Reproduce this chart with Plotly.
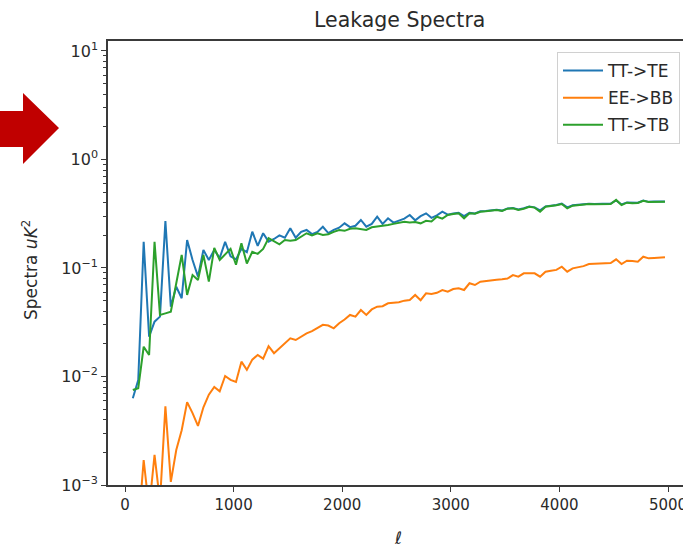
import plotly.graph_objects as go

ell = [72, 122, 172, 222, 272, 322, 372, 422, 472, 522,
       572, 622, 672, 722, 772, 822, 872, 922, 972, 1022,
       1072, 1122, 1172, 1222, 1272, 1322, 1372, 1422, 1472, 1522,
       1572, 1622, 1672, 1722, 1772, 1822, 1872, 1922, 1972, 2022,
       2072, 2122, 2172, 2222, 2272, 2322, 2372, 2422, 2472, 2522,
       2572, 2622, 2672, 2722, 2772, 2822, 2872, 2922, 2972, 3022,
       3072, 3122, 3172, 3222, 3272, 3322, 3372, 3422, 3472, 3522,
       3572, 3622, 3672, 3722, 3772, 3822, 3872, 3922, 3972, 4022,
       4072, 4122, 4172, 4222, 4272, 4322, 4372, 4422, 4472, 4522,
       4572, 4622, 4672, 4722, 4772, 4822, 4872, 4922, 4972]

tt_te = [0.0063, 0.0093, 0.174, 0.0233, 0.032, 0.0356, 0.271, 0.044, 0.0672, 0.0526,
         0.181, 0.1186, 0.0832, 0.1466, 0.1186, 0.1466, 0.1236, 0.174, 0.128, 0.120,
         0.150, 0.140, 0.216, 0.160, 0.209, 0.175, 0.185, 0.200, 0.190, 0.232,
         0.190, 0.215, 0.224, 0.205, 0.215, 0.240, 0.210, 0.225, 0.235, 0.258,
         0.238, 0.245, 0.277, 0.240, 0.255, 0.297, 0.255, 0.287, 0.262, 0.275,
         0.285, 0.308, 0.275, 0.300, 0.319, 0.290, 0.305, 0.330, 0.310, 0.318,
         0.322, 0.300, 0.322, 0.318, 0.333, 0.336, 0.340, 0.345, 0.338, 0.354,
         0.357, 0.346, 0.356, 0.369, 0.362, 0.340, 0.370, 0.375, 0.380, 0.392,
         0.362, 0.378, 0.383, 0.387, 0.391, 0.388, 0.391, 0.395, 0.392, 0.420,
         0.385, 0.402, 0.398, 0.400, 0.418, 0.407, 0.410, 0.412, 0.410]

ee_bb = [0.0003, 0.0004, 0.0017, 0.0006, 0.0019, 0.0007, 0.0053, 0.00107, 0.0021, 0.0032,
         0.0058, 0.0046, 0.0035, 0.0052, 0.0068, 0.0080, 0.0073, 0.0101, 0.0093, 0.0089,
         0.0137, 0.0115, 0.0143, 0.0158, 0.0146, 0.0190, 0.0164, 0.0182, 0.0200, 0.0225,
         0.0217, 0.0232, 0.0250, 0.0262, 0.0278, 0.0299, 0.0295, 0.0278, 0.0310, 0.0335,
         0.0369, 0.0356, 0.0410, 0.0369, 0.0415, 0.0440, 0.0445, 0.0473, 0.0478, 0.0483,
         0.0500, 0.0507, 0.0564, 0.0505, 0.0585, 0.0575, 0.0590, 0.0627, 0.0605, 0.0640,
         0.0650, 0.0627, 0.0723, 0.0697, 0.0748, 0.0760, 0.0775, 0.0780, 0.0787, 0.0800,
         0.0861, 0.0832, 0.0893, 0.0890, 0.0893, 0.0832, 0.0924, 0.0944, 0.0960, 0.1028,
         0.0924, 0.0993, 0.1014, 0.1040, 0.1088, 0.1088, 0.1090, 0.1104, 0.1110, 0.1202,
         0.1088, 0.1167, 0.1160, 0.1143, 0.1270, 0.1227, 0.1235, 0.1250, 0.1256]

tt_tb = [0.0075, 0.0078, 0.0188, 0.0158, 0.1745, 0.0369, 0.0382, 0.0396, 0.0723, 0.132,
         0.0564, 0.0861, 0.0775, 0.132, 0.0748, 0.153, 0.1186, 0.132, 0.150, 0.107,
         0.169, 0.110, 0.141, 0.135, 0.150, 0.188, 0.1745, 0.165, 0.181, 0.178,
         0.181, 0.195, 0.209, 0.200, 0.209, 0.2015, 0.205, 0.215, 0.224, 0.220,
         0.230, 0.232, 0.228, 0.224, 0.237, 0.240, 0.245, 0.249, 0.255, 0.262,
         0.267, 0.263, 0.265, 0.258, 0.272, 0.268, 0.297, 0.285, 0.308, 0.315,
         0.319, 0.287, 0.319, 0.316, 0.330, 0.333, 0.338, 0.342, 0.335, 0.352,
         0.355, 0.342, 0.352, 0.367, 0.360, 0.330, 0.367, 0.372, 0.378, 0.389,
         0.355, 0.375, 0.380, 0.385, 0.389, 0.386, 0.389, 0.392, 0.389, 0.424,
         0.380, 0.400, 0.395, 0.398, 0.417, 0.405, 0.408, 0.410, 0.408]

series_names = ["TT->TE", "EE->BB", "TT->TB"]
series_colors = ["#1f77b4", "#ff7f0e", "#2ca02c"]
x_ticks = [0, 1000, 2000, 3000, 4000, 5000]
y_ticks = [0.001, 0.01, 0.1, 1, 10]
y_ticktext = ["10<sup>\u22123</sup>", "10<sup>\u22122</sup>", "10<sup>\u22121</sup>",
              "10<sup>0</sup>", "10<sup>1</sup>"]

W, H = 683, 549
ML, MR, MT, MB = 108, 0, 41, 64
PW, PH = W - ML - MR, H - MT - MB
FONT = "DejaVu Sans"
TXT = "#2a2a2a"
AX = "#3a3a3a"

fig = go.Figure()
for name, ys, col in zip(series_names, [tt_te, ee_bb, tt_tb], series_colors):
    fig.add_trace(go.Scatter(x=ell, y=ys, mode="lines", name=name, legendgroup=name,
                             line=dict(color=col, width=2)))

minor_vals = [m * 10 ** e for e in range(-3, 2) for m in range(2, 10)]


def px2paper(px, py):
    return (px - ML) / PW, (H - MB - py) / PH


arrow_px = [(-5, 111), (23, 111), (23, 93), (59, 128), (23, 164), (23, 147), (-5, 147)]
pts = [px2paper(a, b) for a, b in arrow_px]
path = "M " + " L ".join(f"{a:.4f},{b:.4f}" for a, b in pts) + " Z"

fig.update_layout(
    width=W, height=H,
    margin=dict(l=ML, r=MR, t=MT, b=MB, pad=0, autoexpand=False),
    paper_bgcolor="white", plot_bgcolor="white",
    font=dict(family=FONT, size=15, color=TXT),
    showlegend=True,
    legend=dict(x=(680 - ML) / PW, y=(H - MB - 52) / PH, xanchor="right", yanchor="top",
                bgcolor="rgba(255,255,255,0.85)", bordercolor="#d0d0d0", borderwidth=1,
                font=dict(family=FONT, size=17, color=TXT),
                traceorder="grouped", tracegroupgap=2, itemwidth=40),
    xaxis=dict(range=[-156.5, 5138], tickvals=x_ticks, ticks="outside", ticklen=5,
               tickwidth=1.2, tickcolor=AX, showline=True, linecolor=AX, linewidth=1.6,
               mirror=True, showgrid=False, zeroline=False, ticklabeloverflow="allow",
               automargin=False,
               tickfont=dict(family=FONT, size=15, color=TXT)),
    yaxis=dict(type="log", range=[-3, 1.092], tickvals=y_ticks, ticktext=y_ticktext,
               ticks="outside", ticklen=5, tickwidth=1.2, tickcolor=AX,
               showline=True, linecolor=AX, linewidth=1.6, mirror=False,
               showgrid=False, zeroline=False, ticklabeloverflow="allow",
               automargin=False,
               tickfont=dict(family=FONT, size=16, color=TXT),
               minor=dict(tickvals=minor_vals, ticks="outside", ticklen=3,
                          tickwidth=1, tickcolor=AX, showgrid=False)),
    shapes=[dict(type="path", path=path, xref="paper", yref="paper",
                 fillcolor="#c00000", line=dict(width=0), layer="above")],
    annotations=[
        dict(text="Leakage Spectra", xref="paper", yref="paper",
             x=(399 - ML) / PW, y=(H - MB - 20) / PH, xanchor="center", yanchor="middle",
             showarrow=False, font=dict(family=FONT, size=20.5, color=TXT)),
        dict(text="Spectra <i>uK</i><sup>2</sup>", xref="paper", yref="paper",
             x=(30 - ML) / PW, y=(H - MB - 270) / PH, xanchor="center", yanchor="middle",
             textangle=-90, showarrow=False, font=dict(family=FONT, size=17, color=TXT)),
        dict(text="<i>\u2113</i>", xref="paper", yref="paper",
             x=(398 - ML) / PW, y=(H - MB - 526) / PH, xanchor="center", yanchor="top",
             showarrow=False, font=dict(family=FONT, size=17, color=TXT)),
    ],
)

fig.write_html("out.html")
